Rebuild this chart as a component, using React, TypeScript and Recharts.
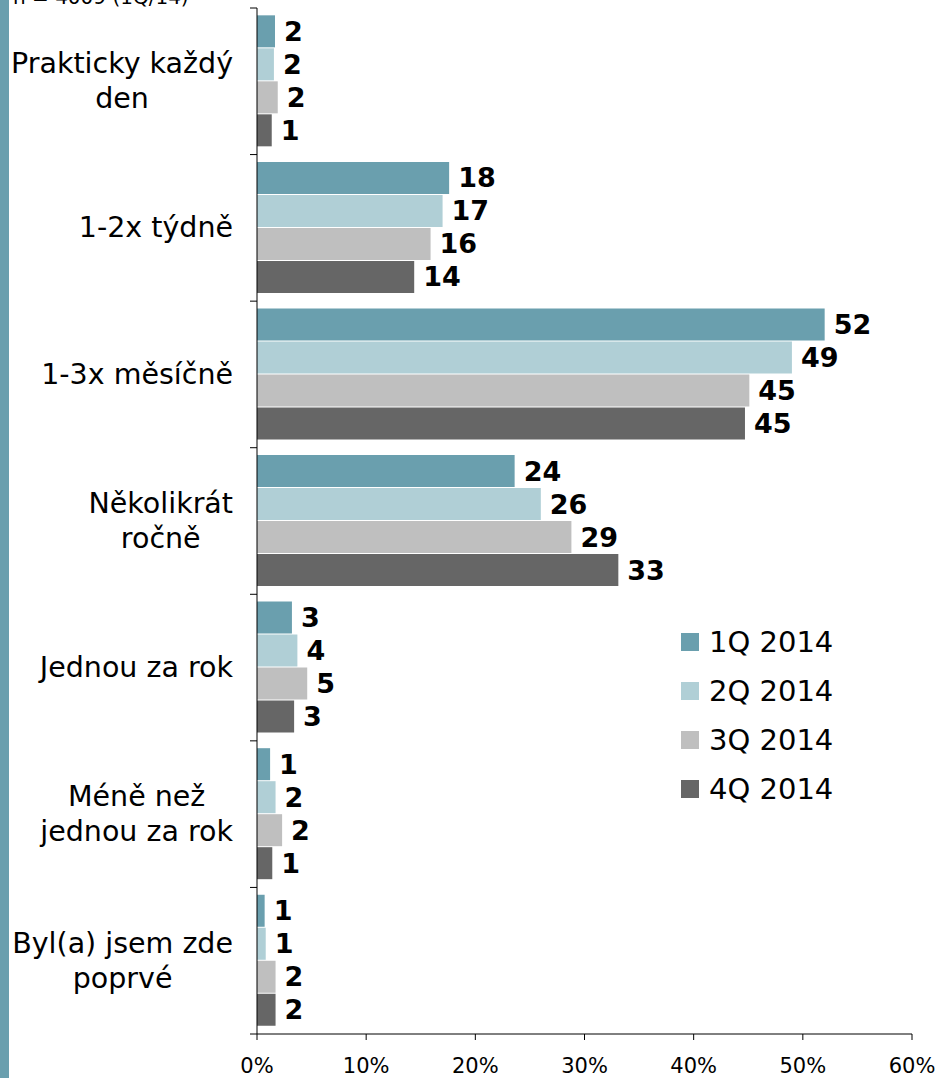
import { BarChart, Bar, XAxis, YAxis, Legend, LabelList } from 'recharts';

// Kategorie (osa Y) – zalomení řádků podle originálu
const categories = [
  'Prakticky každý\nden',
  '1-2x týdně',
  '1-3x měsíčně',
  'Několikrát\nročně',
  'Jednou za rok',
  'Méně než\njednou za rok',
  'Byl(a) jsem zde\npoprvé',
];

const seriesNames = ['1Q 2014', '2Q 2014', '3Q 2014', '4Q 2014'];
const seriesColors = ['#6a9fae', '#b0cfd6', '#bfbfbf', '#666666'];

// délky sloupců (%)
const q1 = [1.65, 17.6, 52.0, 23.6, 3.2, 1.2, 0.7];
const q2 = [1.55, 17.0, 49.0, 26.0, 3.7, 1.7, 0.8];
const q3 = [1.9, 15.9, 45.1, 28.8, 4.6, 2.3, 1.7];
const q4 = [1.35, 14.4, 44.7, 33.1, 3.4, 1.4, 1.7];

// popisky hodnot
const q1Labels = [2, 18, 52, 24, 3, 1, 1];
const q2Labels = [2, 17, 49, 26, 4, 2, 1];
const q3Labels = [2, 16, 45, 29, 5, 2, 2];
const q4Labels = [1, 14, 45, 33, 3, 1, 2];

const xTicks = [0, 10, 20, 30, 40, 50, 60];

const chartData = categories.map((name, i) => ({
  name,
  q1: q1[i],
  q2: q2[i],
  q3: q3[i],
  q4: q4[i],
  q1Label: q1Labels[i],
  q2Label: q2Labels[i],
  q3Label: q3Labels[i],
  q4Label: q4Labels[i],
}));

const FONT = '"DejaVu Sans", Verdana, sans-serif';
const WIDTH = 937;
const HEIGHT = 1078;
const MARGIN = { top: 8, right: 25, bottom: 14, left: 8 };
const X_AXIS_HEIGHT = 30;
const BAND = (HEIGHT - MARGIN.top - MARGIN.bottom - X_AXIS_HEIGHT) / categories.length;

const measure = (() => {
  let ctx: CanvasRenderingContext2D | null = null;
  return (text: string, font: string) => {
    if (!ctx) ctx = document.createElement('canvas').getContext('2d');
    if (!ctx) return text.length * 14;
    ctx.font = font;
    return ctx.measureText(text).width;
  };
})();

const CategoryTick = (props: any) => {
  const { x, y, payload, index } = props;
  const lines: string[] = String(payload.value).split('\n');
  const fontSize = 28.5;
  const lineH = 35;
  const maxW = Math.max(...lines.map((l) => measure(l, `${fontSize}px "DejaVu Sans"`)));
  const right = x - 16;
  const cx = right - maxW / 2;
  const axisX = x + 8;
  return (
    <g>
      <line x1={axisX - 7} x2={axisX} y1={y - BAND / 2} y2={y - BAND / 2} stroke="#000" />
      {index === categories.length - 1 && (
        <line x1={axisX - 7} x2={axisX} y1={y + BAND / 2} y2={y + BAND / 2} stroke="#000" />
      )}
      <text x={cx} y={y} textAnchor="middle" fontSize={fontSize} fontFamily={FONT} fill="#000">
        {lines.map((l, i) => (
          <tspan
            key={i}
            x={cx}
            y={y + (i - (lines.length - 1) / 2) * lineH}
            dominantBaseline="central"
          >
            {l}
          </tspan>
        ))}
      </text>
    </g>
  );
};

const LegendContent = () => (
  <div style={{ fontFamily: FONT, fontSize: 29, color: '#000' }}>
    {seriesNames.map((n, i) => (
      <div key={n} style={{ display: 'flex', alignItems: 'center', height: 49 }}>
        <span
          style={{
            display: 'inline-block',
            width: 18,
            height: 18,
            background: seriesColors[i],
            marginRight: 10,
          }}
        />
        <span>{n}</span>
      </div>
    ))}
  </div>
);

const keys = ['q1', 'q2', 'q3', 'q4'];

export default function App() {
  return (
    <div
      style={{
        position: 'absolute',
        left: 0,
        top: 0,
        width: WIDTH,
        height: HEIGHT,
        background: '#fff',
        overflow: 'hidden',
        fontFamily: FONT,
      }}
    >
      <div style={{ position: 'absolute', left: 0, top: 0, width: 9, height: HEIGHT, background: '#6a9fae' }} />
      <div
        style={{
          position: 'absolute',
          left: 13,
          top: -13,
          fontSize: 20,
          lineHeight: '20px',
          whiteSpace: 'nowrap',
        }}
      >
        n = 4009 (1Q/14)
      </div>
      <BarChart
        width={WIDTH}
        height={HEIGHT}
        data={chartData}
        layout="vertical"
        margin={MARGIN}
        barCategoryGap="5%"
        barGap={1}
      >
        <XAxis
          type="number"
          domain={[0, 60]}
          ticks={xTicks}
          tickFormatter={(v) => `${v}%`}
          height={X_AXIS_HEIGHT}
          stroke="#000"
          tickSize={6}
          tickMargin={18}
          tick={{ fill: '#000', fontSize: 21, fontFamily: FONT }}
          interval={0}
        />
        <YAxis
          type="category"
          dataKey="name"
          width={249}
          stroke="#000"
          tickLine={false}
          tick={<CategoryTick />}
          interval={0}
        />
        <Legend
          layout="horizontal"
          verticalAlign="middle"
          align="center"
          content={<LegendContent />}
          wrapperStyle={{ position: 'absolute', left: 681, top: 617, width: 'auto' }}
        />
        {keys.map((k, i) => (
          <Bar key={k} dataKey={k} name={seriesNames[i]} fill={seriesColors[i]} isAnimationActive={false}>
            <LabelList
              dataKey={`${k}Label`}
              position="right"
              offset={9}
              fill="#000"
              fontSize={27}
              fontWeight="bold"
              fontFamily={FONT}
            />
          </Bar>
        ))}
      </BarChart>
    </div>
  );
}
